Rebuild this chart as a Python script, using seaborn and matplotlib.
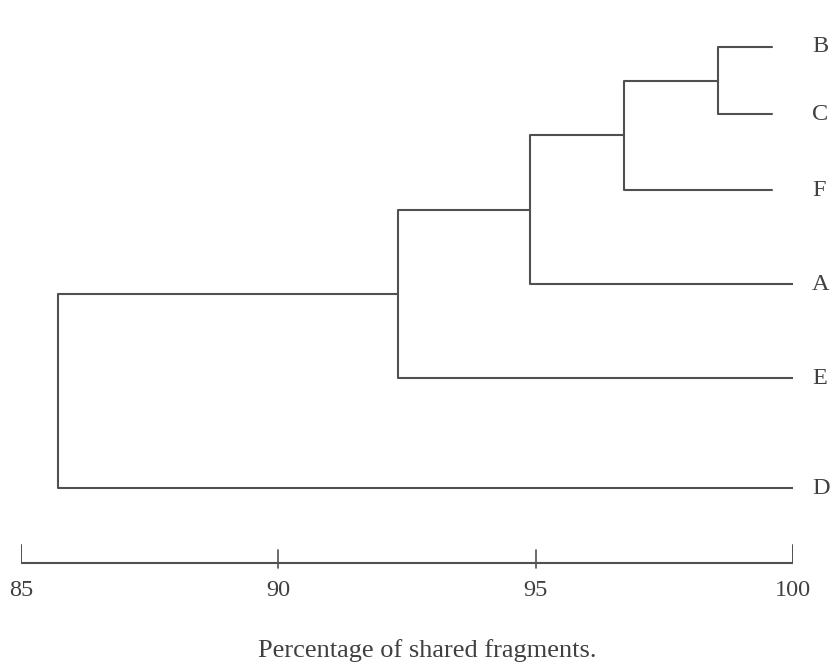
import pandas as pd
import matplotlib
matplotlib.use("Agg")
import matplotlib.pyplot as plt
import seaborn as sns

# Leaves (top to bottom) and where each leaf branch ends on the % scale
leaves = ["B", "C", "F", "A", "E", "D"]
leaf_end = [99.6, 99.6, 99.6, 100.0, 100.0, 100.0]

# Merges: (left cluster, right cluster, % of shared fragments at the join)
merge_left = ["B", "BC", "BCF", "BCFA", "BCFAE"]
merge_right = ["C", "F", "A", "E", "D"]
merge_level = [98.54, 96.72, 94.89, 92.32, 85.72]

ticks = [85, 90, 95, 100]
xlabel = "Percentage of shared fragments."

# layout: vertical row of each leaf, in pixels from the top
leaf_rows = [47, 114, 190, 284, 378, 488]

line_col = "#505050"
text_col = "#404040"

# Build the segments of the dendrogram
node_x = dict(zip(leaves, leaf_end))
node_y = dict(zip(leaves, leaf_rows))
segs = []
for i, (a, b, lvl) in enumerate(zip(merge_left, merge_right, merge_level)):
    ya, yb = node_y[a], node_y[b]
    segs += [(f"m{i}", node_x[a], ya), (f"m{i}", lvl, ya), (f"m{i}", lvl, yb), (f"m{i}", node_x[b], yb)]
    node_x[a + b] = lvl
    node_y[a + b] = (ya + yb) / 2
seg_df = pd.DataFrame(segs, columns=["seg", "x", "y"])

sns.set_style("white")
plt.rcParams["font.family"] = ["Liberation Serif", "DejaVu Serif"]

fig = plt.figure(figsize=(8.33, 6.68), dpi=100)
ax = fig.add_axes([21 / 833, 0, 772 / 833, 1])
ax.set_xlim(85, 100)
ax.set_ylim(668, 0)
ax.axis("off")

sns.lineplot(data=seg_df, x="x", y="y", units="seg", estimator=None, sort=False,
             color=line_col, linewidth=1.5, ax=ax)

# Leaf labels
for name, y in zip(leaves, leaf_rows):
    ax.text(100.37, y, name, ha="left", va="center", fontsize=17.5, color=text_col)

# Scale bar at the bottom
axis_y = 563
ax.plot([ticks[0], ticks[-1]], [axis_y, axis_y], color=line_col, linewidth=1.5)
for t in ticks:
    if t in (ticks[0], ticks[-1]):
        ax.plot([t, t], [axis_y - 18, axis_y], color=line_col, linewidth=1.4)
    else:
        ax.plot([t, t], [axis_y - 13, axis_y + 5], color=line_col, linewidth=1.2)
    ax.text(t, 590, str(t), ha="center", va="center", fontsize=17.5, color=text_col)

ax.text(92.9, 651, xlabel, ha="center", va="center", fontsize=19, color=text_col)

fig.savefig("out.png", dpi=100)
